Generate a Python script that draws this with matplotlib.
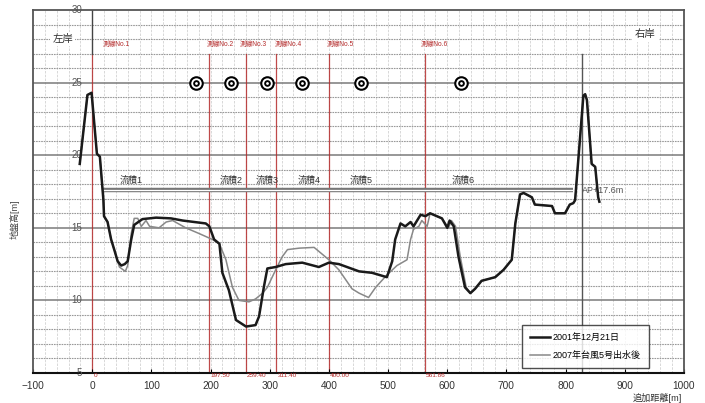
import numpy as np
import matplotlib.pyplot as plt
from matplotlib.transforms import blended_transform_factory

plt.rcParams['font.family'] = ['Liberation Sans', 'Noto Sans CJK JP', 'DejaVu Sans']

# 2001-12-21 cross section
dist_2001 = [-21, -8, -1, 8, 13, 19, 20, 26, 32, 38, 43, 49, 55, 60, 66, 71, 85, 108, 133, 153,
             192, 198, 206, 215, 220, 231, 243, 260, 276, 282, 290, 296, 310, 327, 355, 383, 400,
             417, 451, 473, 498, 507, 512, 521, 529, 538, 543, 555, 563, 571, 591, 600, 604, 611,
             619, 630, 639, 647, 658, 681, 695, 709, 715, 723, 729, 743, 748, 777, 782, 799, 807,
             813, 816, 830, 833, 836, 844, 850, 855, 857]
elev_2001 = [19.4, 24.15, 24.3, 20.1, 19.9, 16.9, 15.8, 15.4, 14.2, 13.4, 12.7, 12.4, 12.5, 12.7,
             14.2, 15.2, 15.6, 15.7, 15.65, 15.5, 15.3, 15.1, 14.2, 13.9, 11.9, 10.7, 8.65, 8.2,
             8.3, 8.9, 10.9, 12.2, 12.3, 12.5, 12.6, 12.3, 12.6, 12.5, 12.0, 11.9, 11.6, 12.7,
             14.2, 15.3, 15.1, 15.4, 15.1, 15.9, 15.8, 16.0, 15.65, 15.0, 15.5, 15.1, 13.0, 10.9,
             10.5, 10.8, 11.35, 11.6, 12.1, 12.8, 15.3, 17.3, 17.4, 17.1, 16.6, 16.5, 16.0, 16.0,
             16.6, 16.7, 16.9, 24.1, 24.2, 23.8, 19.4, 19.2, 17.1, 16.8]

# after the 2007 typhoon No.5 flood
dist_2007 = [-21, -8, -1, 8, 13, 19, 20, 26, 32, 38, 43, 46, 56, 60, 66, 71, 77, 83, 91, 97, 113,
             125, 136, 158, 181, 203, 215, 226, 237, 248, 265, 276, 288, 296, 310, 321, 330, 350,
             375, 400, 417, 439, 451, 467, 479, 498, 515, 532, 538, 543, 552, 557, 566, 571, 591,
             602, 607, 614, 622, 632, 639, 647, 658, 681, 695, 709, 715, 723, 729, 743, 748, 777,
             782, 799, 807, 813, 816, 830, 833, 836, 844, 850, 855, 857]
elev_2007 = [19.4, 24.15, 24.3, 20.1, 19.9, 16.9, 15.8, 15.4, 14.2, 13.4, 12.7, 12.3, 12.0, 12.4,
             14.6, 15.65, 15.65, 15.1, 15.5, 15.1, 15.0, 15.4, 15.5, 15.0, 14.6, 14.2, 13.9, 12.8,
             10.9, 10.0, 9.9, 10.1, 10.5, 10.9, 12.1, 13.0, 13.5, 13.6, 13.65, 12.8, 12.1, 10.8,
             10.5, 10.2, 10.9, 11.75, 12.4, 12.8, 14.2, 14.9, 15.1, 15.5, 15.1, 16.0, 15.65, 15.0,
             15.5, 15.1, 13.0, 10.9, 10.5, 10.8, 11.35, 11.6, 12.1, 12.8, 15.3, 17.3, 17.4, 17.1,
             16.6, 16.5, 16.0, 16.0, 16.6, 16.7, 16.9, 24.1, 24.2, 23.8, 19.4, 19.2, 17.1, 16.8]

# survey lines
survey_dist = [0, 197.5, 259.4, 311.4, 400.0, 561.86]
survey_names = ['測線No.1', '測線No.2', '測線No.3', '測線No.4', '測線No.5', '測線No.6']
survey_text_x = [18, 194, 250, 308, 397, 555]

# flow-area labels
flow_names = ['流積1', '流積2', '流積3', '流積4', '流積5', '流積6']
flow_x = [47, 215, 277, 347, 435, 607]

# float markers
marker_x = [176, 235, 296, 355, 454, 623]
marker_y = 25

ap_level = 17.6
right_bank = 827

red = '#b42a2a'

fig = plt.figure(figsize=(7.05, 4.03), dpi=100)
ax = fig.add_axes([0.0468, 0.0744, 0.9234, 0.9008])
ax.set_xlim(-100, 1000)
ax.set_ylim(5, 30)

# grid
for v in np.arange(-80, 1000, 20):
    ax.axvline(v, color='#d2d2d2', lw=0.6, ls=(0, (3, 1.5)), zorder=0)
for h in range(6, 30):
    if h % 5 == 0:
        ax.axhline(h, color='#7a7a7a', lw=1.1, zorder=0.5)
    else:
        ax.axhline(h, color='#999999', lw=0.8, ls=(0, (1.5, 0.8)), zorder=0.5)

# survey lines and labels
for d, name, tx in zip(survey_dist, survey_names, survey_text_x):
    ax.plot([d, d], [5, 27], color=red, lw=0.9, alpha=0.85, zorder=1)
    ax.text(tx, 27.6, name, color=red, fontsize=4.8, ha='left', va='center', zorder=3)
trans = blended_transform_factory(ax.transData, ax.transAxes)
for d in survey_dist:
    lab = '0' if d == 0 else f'{d:.2f}'
    ax.text(d + 2, -0.008, lab, color=red, fontsize=4.6, ha='left', va='center', transform=trans)

ax.plot([0, 0], [27, 30], color='#444444', lw=1, zorder=1)
ax.plot([right_bank, right_bank], [5, 27], color='#555555', lw=1, zorder=1)

# bank labels
ax.text(-50, 28, '左岸', fontsize=7.5, color='#333333', ha='center', va='center',
        bbox=dict(facecolor='white', edgecolor='none', pad=1.5), zorder=3)
ax.text(935, 28.35, '右岸', fontsize=7.5, color='#333333', ha='center', va='center',
        bbox=dict(facecolor='white', edgecolor='none', pad=2.5), zorder=3)

# AP level line
ax.plot([18, 812], [ap_level, ap_level], color='#777777', lw=3.2, zorder=2, solid_capstyle='butt')
ax.plot([18, 812], [ap_level, ap_level], color='white', lw=0.9, zorder=2.1, solid_capstyle='butt')
ax.text(right_bank + 1, ap_level, 'AP+17.6m', fontsize=6.5, color='#555555', ha='left', va='center', zorder=3)

for name, fx in zip(flow_names, flow_x):
    ax.text(fx, 18.3, name, fontsize=6.5, color='#333333', ha='left', va='center', zorder=3)

# float markers
for ms, c in [(10.5, 'black'), (7.5, 'white'), (4.8, 'black'), (2.0, 'white')]:
    ax.plot(marker_x, [marker_y] * len(marker_x), 'o', ms=ms, color=c, mec='none', zorder=4)

ax.plot(dist_2007, elev_2007, color='#888888', lw=1.1, label='2007年台風5号出水後', zorder=5)
ax.plot(dist_2001, elev_2001, color='#1a1a1a', lw=1.8, label='2001年12月21日', zorder=6)

handles, labels = ax.get_legend_handles_labels()
leg = ax.legend(handles[::-1], labels[::-1], loc='lower right', bbox_to_anchor=(0.946, 0.014),
                fontsize=6.5, handlelength=2.2, frameon=True, fancybox=False,
                borderpad=0.9, labelspacing=1.0, handletextpad=0.3, borderaxespad=0)
leg.get_frame().set_edgecolor('#222222')
leg.get_frame().set_linewidth(1.0)
leg.set_zorder(7)

# axes styling
ax.set_xticks(np.arange(-100, 1001, 100))
ax.set_yticks([])
ax.tick_params(axis='x', direction='in', length=3, labelsize=7.3, labelcolor='#333333', pad=6)
for side in ['left', 'top', 'right']:
    ax.spines[side].set_color('#555555')
    ax.spines[side].set_linewidth(1.3)
ax.spines['bottom'].set_color('#111111')
ax.spines['bottom'].set_linewidth(1.5)

# elevation labels sit inside the frame, left of the first survey line
for yv in range(5, 31, 5):
    ax.text(-17, yv, str(yv), fontsize=7, color='#555555', ha='right', va='center', zorder=3)

fig.text(0.021, 0.455, '地盤高[m]', rotation=90, fontsize=6.5, color='#444444', ha='center', va='center')
fig.text(0.968, 0.0, '追加距離[m]', fontsize=6.6, color='#333333', ha='right', va='bottom')

fig.savefig('out.png', dpi=100)
